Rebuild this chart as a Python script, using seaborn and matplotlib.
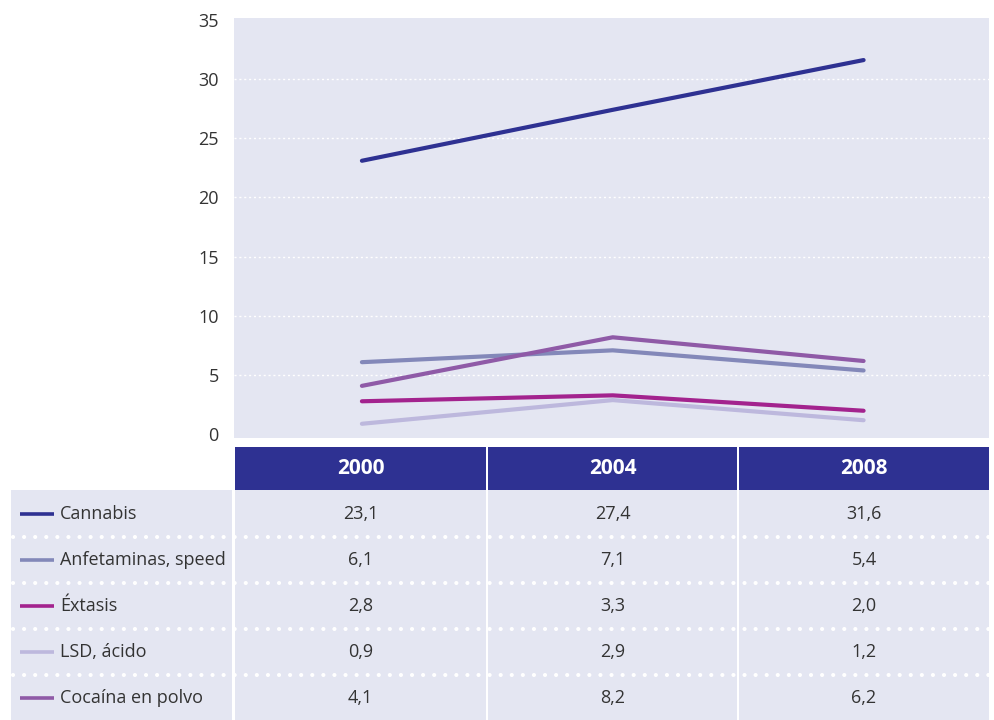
import pandas as pd
import matplotlib.pyplot as plt
import seaborn as sns
from matplotlib.patches import Rectangle

# ------------------------------------------------------
# Data
# ------------------------------------------------------
YEARS = ["2000", "2004", "2008"]
SUBSTANCES = ["Cannabis", "Anfetaminas, speed", "Éxtasis", "LSD, ácido", "Cocaína en polvo"]

cannabis = [23.1, 27.4, 31.6]
anfetaminas = [6.1, 7.1, 5.4]
extasis = [2.8, 3.3, 2.0]
lsd = [0.9, 2.9, 1.2]
cocaina = [4.1, 8.2, 6.2]

COLORS = ["#2e3192", "#8388b9", "#a3238e", "#bdb8dd", "#8f5aa7"]
Y_TICKS = [0, 5, 10, 15, 20, 25, 30, 35]

BG = "#e4e6f2"
HEADER = "#2e3192"
TEXT = "#333333"

# ------------------------------------------------------
# Long-form table
# ------------------------------------------------------
series = [cannabis, anfetaminas, extasis, lsd, cocaina]
rows = []
for name, vals in zip(SUBSTANCES, series):
    for i, v in enumerate(vals):
        rows.append({"pos": i, "year": YEARS[i], "substance": name, "value": v})
df = pd.DataFrame(rows)
palette = dict(zip(SUBSTANCES, COLORS))

sns.set_theme(style="white")
plt.rcParams["font.family"] = ["Open Sans", "DejaVu Sans"]

W, H = 994, 720
fig = plt.figure(figsize=(W / 100, H / 100), dpi=100)


def px_axes(x0, y0, x1, y1):
    return fig.add_axes([x0 / W, 1 - y1 / H, (x1 - x0) / W, (y1 - y0) / H])


# ------------------------------------------------------
# Line chart
# ------------------------------------------------------
ax = px_axes(234, 18, 989, 438)
ax.set_facecolor(BG)
sns.lineplot(data=df, x="pos", y="value", hue="substance", palette=palette,
             linewidth=3, legend=False, ax=ax)
ax.set_xlim(-0.51, 2.5)
ax.set_ylim(-0.3, 35.15)
ax.set_xticks([])
ax.set_yticks(Y_TICKS)
ax.set_yticklabels([str(t) for t in Y_TICKS], fontsize=13, color=TEXT)
ax.tick_params(axis="y", length=0, pad=11)
for lbl in ax.get_yticklabels():
    if lbl.get_text() == "0":
        lbl.set_y(-0.35)
ax.set_xlabel("")
ax.set_ylabel("")
for t in Y_TICKS[1:-1]:
    ax.axhline(t, color="white", linestyle=(0, (1.5, 2)), linewidth=1, zorder=0.5)
for s in ax.spines.values():
    s.set_visible(False)

# ------------------------------------------------------
# Data table below
# ------------------------------------------------------
tab = fig.add_axes([0, 0, 1, 1], zorder=-1)
tab.set_xlim(0, W)
tab.set_ylim(H, 0)
tab.axis("off")

cols = [(235, 486), (488, 737), (739, 989)]
for (c0, c1), yr in zip(cols, YEARS):
    tab.add_patch(Rectangle((c0, 447), c1 - c0, 43, color=HEADER, lw=0))
    tab.text((c0 + c1) / 2, 469, yr, color="white", fontsize=15,
             fontweight="bold", ha="center", va="center")
    tab.add_patch(Rectangle((c0, 490), c1 - c0, 230, color=BG, lw=0))
tab.add_patch(Rectangle((11, 490), 221, 230, color=BG, lw=0))

row_h = 46
for r, (name, vals, col) in enumerate(zip(SUBSTANCES, series, COLORS)):
    yc = 514 + r * row_h
    tab.plot([20, 54], [yc, yc], color=col, lw=2.6, solid_capstyle="butt")
    tab.text(60, yc, name, color=TEXT, fontsize=13, ha="left", va="center")
    for (c0, c1), v in zip(cols, vals):
        tab.text((c0 + c1) / 2, yc, f"{v:.1f}".replace(".", ","), color=TEXT,
                 fontsize=13, ha="center", va="center")
    if r > 0:
        ys = 490 + r * row_h + 1
        tab.plot([13, 989], [ys, ys], color="white", lw=3,
                 linestyle=(0, (0.01, 2.65)), dash_capstyle="round")

fig.savefig("out.png", dpi=100)
